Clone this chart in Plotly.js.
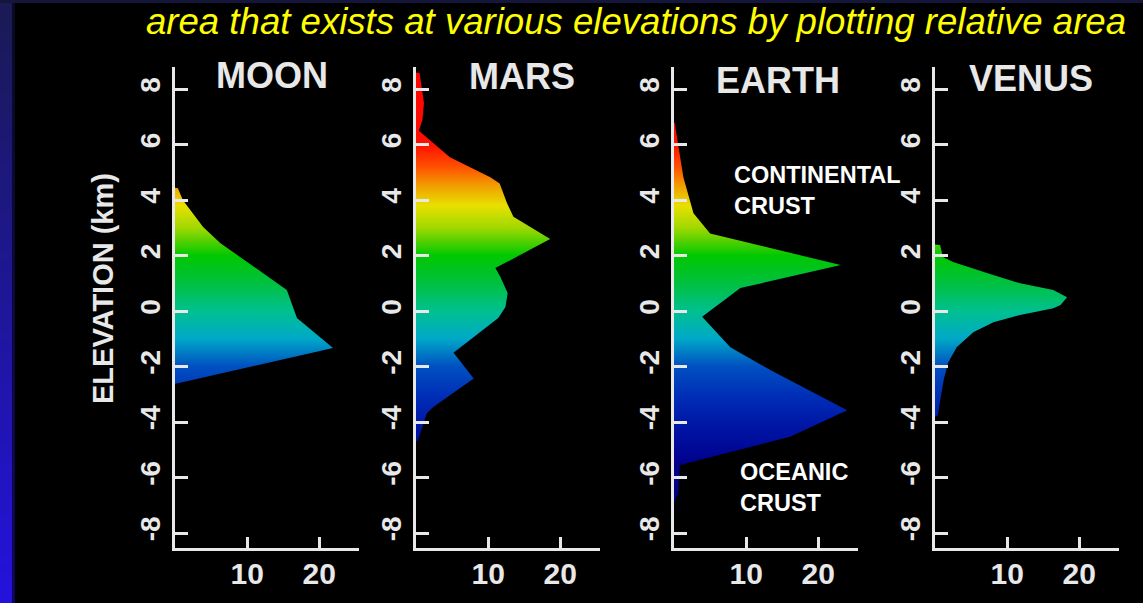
<!DOCTYPE html>
<html>
<head>
<meta charset="utf-8">
<script src="https://cdn.plot.ly/plotly-3.0.1.min.js"></script>
<style>
  html, body { margin: 0; padding: 0; background: #000; }
  #chart { width: 1143px; height: 603px; }
</style>
</head>
<body>
<div id="chart"></div>
<script>
// ---------- data (relative area %, elevation km) ----------
const planets = ['MOON', 'MARS', 'EARTH', 'VENUS'];

const moonArea = [0, 0.4, 1.1, 2.5, 3.9, 6.3, 15.5, 16.9, 21.9, 0.4, 0];
const moonElev = [4.45, 4.43, 4.0, 3.53, 3.03, 2.45, 0.76, -0.25, -1.33, -2.6, -2.62];

const marsArea = [0, 0.5, 1.1, 0.9, 0.4, 4.7, 10.3, 11.6, 12.6, 13.5, 18.6, 11.0, 11.7, 12.7, 12.4, 11.4, 5.2, 8.0, 2.4, 1.5, 0.3, 0];
const marsElev = [8.6, 8.58, 7.5, 6.9, 6.5, 5.55, 4.83, 4.6, 3.9, 3.4, 2.6, 1.55, 1.23, 0.65, 0.15, -0.25, -1.5, -2.43, -3.46, -3.68, -4.65, -4.7];

const earthArea = [0, 0.1, 1.3, 2.7, 5.0, 23.1, 9.2, 3.9, 7.8, 13.4, 24.0, 16.1, 0.8, 0.6, 0];
const earthElev = [6.8, 6.77, 4.83, 3.53, 2.8, 1.66, 0.83, -0.2, -1.3, -2.13, -3.57, -4.53, -5.55, -6.56, -6.9];

const venusArea = [0, 0.7, 1.1, 2.5, 7.2, 11.8, 16.4, 18.3, 17.4, 16.4, 11.8, 8.1, 5.3, 3.0, 1.8, 1.2, 0.8, 0.4, 0];
const venusElev = [2.4, 2.38, 1.95, 1.77, 1.37, 1.0, 0.76, 0.5, 0.22, 0.1, -0.14, -0.4, -0.76, -1.3, -1.87, -2.48, -3.1, -3.75, -3.8];

const elevTicks = [-8, -6, -4, -2, 0, 2, 4, 6, 8];
const elevTickLabels = ['-8', '-6', '-4', '-2', '0', '2', '4', '6', '8'];
const areaTicks = [10, 20];
const areaTickLabels = ['10', '20'];

const headline = 'area that exists at various elevations by plotting relative area';
const yTitle = 'ELEVATION (km)';
const notes = ['CONTINENTAL<br>CRUST', 'OCEANIC<br>CRUST'];

// ---------- styling ----------
const W = 1143, H = 603;
const px = v => v / W;
const py = v => 1 - v / H;

// elevation colour ramp (km -> colour)
const rampElev = [-9, -5.5, -4, -3, -2, -1, 0, 1, 2, 3, 3.8, 4.5, 5.2, 6, 9];
const rampCol  = ['#000078', '#00008c', '#0018a8', '#0030b8', '#0050c0', '#00a8c8', '#00c090',
                  '#00c040', '#00c800', '#a0d800', '#e8e000', '#f0a000', '#ff5000', '#ff1000', '#ff0000'];
const rampLo = rampElev[0], rampHi = rampElev[rampElev.length - 1];
const colorscale = rampElev.map((e, i) => [(e - rampLo) / (rampHi - rampLo), rampCol[i]]);

const series = [[moonArea, moonElev], [marsArea, marsElev], [earthArea, earthElev], [venusArea, venusElev]];
const xDom = [[175, 359], [416, 600], [674, 858], [935, 1119]];
const yDom = [1 - 548 / H, 1 - 67 / H];
const axisCol = '#e8e8e8';
const fontFam = 'Liberation Sans, Arial, sans-serif';

const traces = series.map((s, i) => ({
  type: 'scatter',
  x: s[0], y: s[1],
  xaxis: 'x' + (i ? i + 1 : ''), yaxis: 'y' + (i ? i + 1 : ''),
  mode: 'lines', line: { width: 0 },
  fill: 'toself',
  fillcolor: '#00c000',
  fillgradient: { type: 'vertical', colorscale: colorscale, start: rampLo, stop: rampHi },
  hoverinfo: 'skip', showlegend: false
}));

const layout = {
  width: W, height: H,
  margin: { l: 0, r: 0, t: 0, b: 0, pad: 0 },
  paper_bgcolor: '#000', plot_bgcolor: 'rgba(0,0,0,0)',
  showlegend: false,
  shapes: [], annotations: []
};

xDom.forEach((d, i) => {
  const sfx = i ? i + 1 : '';
  layout['xaxis' + sfx] = {
    domain: [px(d[0]), px(d[1])], range: [0, 25.5], anchor: 'y' + sfx,
    tickmode: 'array', tickvals: areaTicks, ticktext: areaTickLabels,
    ticks: 'inside', ticklen: 11, tickwidth: 3, tickcolor: axisCol,
    showline: true, linewidth: 3, linecolor: axisCol,
    showgrid: false, zeroline: false, fixedrange: true,
    ticklabelstandoff: -3,
    tickfont: { family: fontFam, size: 30, color: axisCol, weight: 'bold' }
  };
  layout['yaxis' + sfx] = {
    domain: yDom, range: [-8.54, 8.8], anchor: 'x' + sfx,
    tickmode: 'array', tickvals: elevTicks, ticktext: elevTickLabels,
    ticks: 'inside', ticklen: 13, tickwidth: 3, tickcolor: axisCol,
    showline: true, linewidth: 3, linecolor: axisCol,
    showgrid: false, zeroline: false, fixedrange: true,
    tickangle: -90, ticklabelstandoff: 1,
    tickfont: { family: fontFam, size: 28, color: axisCol, weight: 'bold' }
  };
});

// panel titles
const titleX = [272, 522, 778, 1031];
const titleY = [76, 77, 80, 79];
planets.forEach((p, i) => {
  layout.annotations.push({
    text: p, xref: 'paper', yref: 'paper', x: px(titleX[i]), y: py(titleY[i]),
    xanchor: 'center', yanchor: 'middle', showarrow: false,
    font: { family: fontFam, size: 36, color: axisCol, weight: 'bold' }
  });
});

// y-axis title
layout.annotations.push({
  text: yTitle, xref: 'paper', yref: 'paper', x: px(103), y: py(289),
  xanchor: 'center', yanchor: 'middle', textangle: -90, showarrow: false,
  font: { family: fontFam, size: 29, color: axisCol, weight: 'bold' }
});

// crust labels
layout.annotations.push({
  text: notes[0], xref: 'paper', yref: 'paper', x: px(732), y: py(190),
  xanchor: 'left', yanchor: 'middle', align: 'left', showarrow: false,
  font: { family: fontFam, size: 23.5, color: '#ffffff', weight: 'bold' }
});
layout.annotations.push({
  text: notes[1], xref: 'paper', yref: 'paper', x: px(738), y: py(487),
  xanchor: 'left', yanchor: 'middle', align: 'left', showarrow: false,
  font: { family: fontFam, size: 23.5, color: '#ffffff', weight: 'bold' }
});

// headline
layout.annotations.push({
  text: headline, xref: 'paper', yref: 'paper', x: px(145), y: 1,
  xanchor: 'left', yanchor: 'top', showarrow: false, borderpad: 0,
  font: { family: fontFam, size: 36.6, color: '#ffff00', style: 'italic' }
});

// slide decoration: blue strip on the left, thin band at the top
const nBands = 60;
for (let k = 0; k < nBands; k++) {
  const t = k / (nBands - 1);
  const r = Math.round(26 + t * 10), g = Math.round(26 - t * 8), b = Math.round(84 + t * 136);
  const yTop = k * H / nBands, yBot = (k + 1) * H / nBands + 1;
  layout.shapes.push({
    type: 'rect', xref: 'paper', yref: 'paper',
    x0: 0, x1: px(12), y0: py(yBot), y1: py(yTop),
    fillcolor: `rgb(${r},${g},${b})`, line: { width: 0 }, layer: 'below'
  });
  layout.shapes.push({
    type: 'rect', xref: 'paper', yref: 'paper',
    x0: px(12), x1: px(15), y0: py(yBot), y1: py(yTop),
    fillcolor: `rgb(${Math.round(r * 0.4)},${Math.round(g * 0.4)},${Math.round(b * 0.4)})`,
    line: { width: 0 }, layer: 'below'
  });
}
layout.shapes.push({
  type: 'rect', xref: 'paper', yref: 'paper', x0: 0, x1: 1, y0: py(3), y1: 1,
  fillcolor: '#16163c', line: { width: 0 }, layer: 'below'
});

Plotly.newPlot('chart', traces, layout, { displayModeBar: false, staticPlot: true });
</script>
</body>
</html>
